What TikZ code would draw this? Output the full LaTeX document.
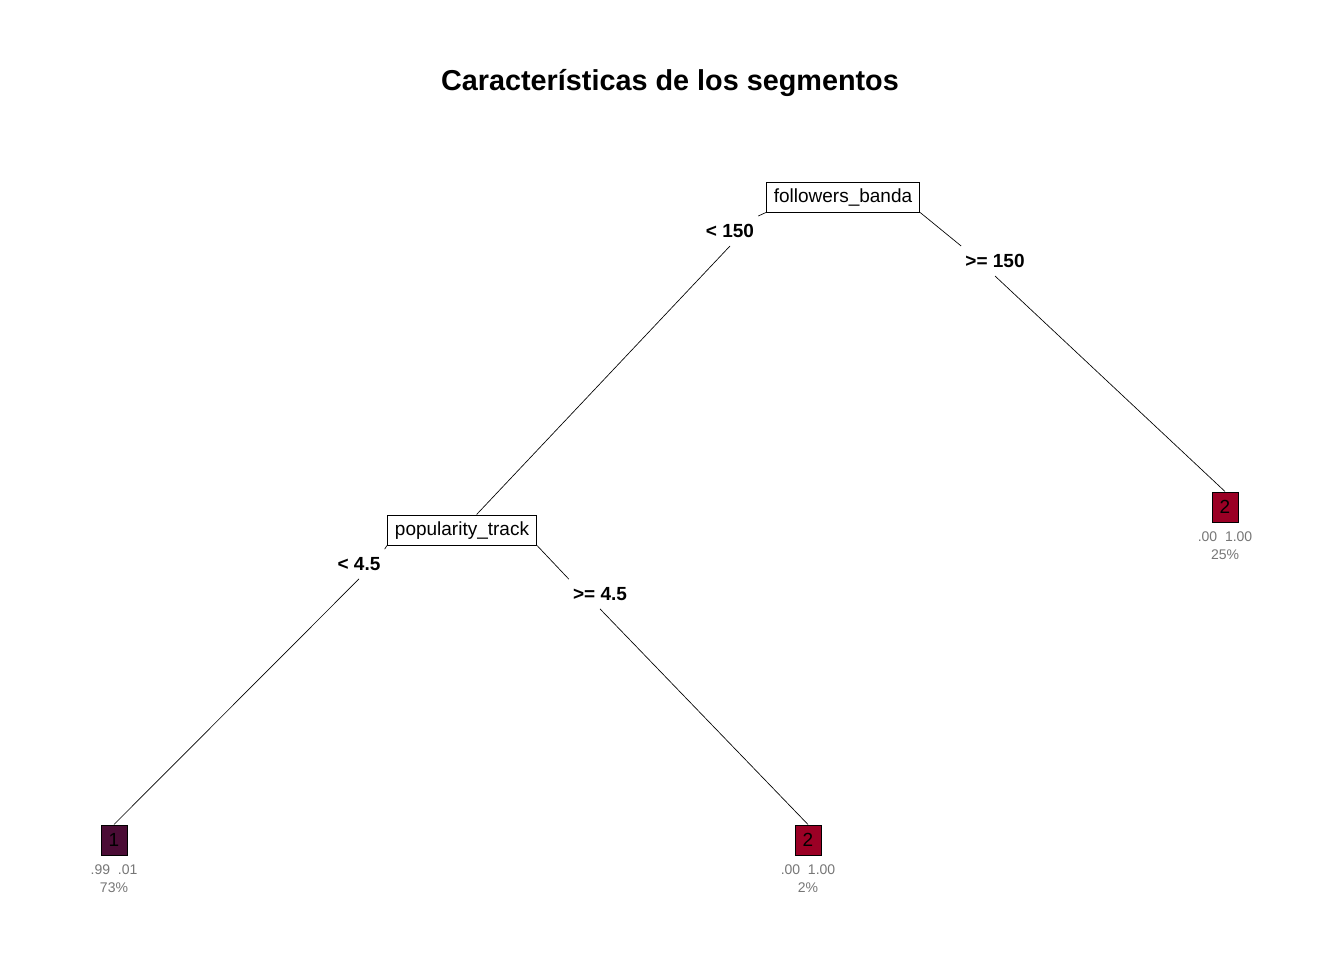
\documentclass[tikz,border=0pt]{standalone}
\usepackage{fontspec}
\setmainfont{Liberation Sans}
\definecolor{hojauno}{RGB}{75,12,53}
\definecolor{hojados}{RGB}{155,0,37}
\definecolor{estad}{RGB}{118,118,118}

\begin{document}
\begin{tikzpicture}[x=0.75pt, y=-0.75pt,
        division/.style={draw, line width=0.75pt, fill=white, inner xsep=5.6pt, inner ysep=4.7pt,
            text height=10.3pt, text depth=2.8pt, font=\fontsize{14.25}{17}\selectfont},
        rama/.style={inner xsep=3pt, inner ysep=6pt, font=\fontsize{14.25}{17}\selectfont\bfseries},
        hoja/.style={draw, line width=0.75pt, minimum width=19.5pt, minimum height=22.5pt,
            inner sep=0pt, font=\fontsize{14.25}{17}\selectfont},
        estadistica/.style={text=estad, align=center, inner sep=0pt, font=\fontsize{10.5}{13.5}\selectfont},
        linea/.style={line width=0.5pt}]
        \useasboundingbox (0, 0) rectangle (1344, 960);

        \node (titulo) at (670, 90) [anchor=base] {\fontsize{21.6}{26}\selectfont\bfseries Características de los segmentos};

        \node (fb) at (843, 197) [division] {followers\_banda};
        \node (pt) at (462, 530) [division] {popularity\_track};

        \node (r1) at (730, 231) [rama] {< 150};
        \node (r2) at (995, 261) [rama] {>= 150};
        \node (r3) at (359, 564) [rama] {< 4.5};
        \node (r4) at (600, 594) [rama] {>= 4.5};

        \node (h1) at (114, 840) [hoja, fill=hojauno] {1};
        \node (h2) at (808, 840) [hoja, fill=hojados] {2};
        \node (h3) at (1225, 507) [hoja, fill=hojados] {2};

        \node (e1) at (114, 879) [estadistica] {.99~~.01\\73\%};
        \node (e2) at (808, 879) [estadistica] {.00~~1.00\\2\%};
        \node (e3) at (1225, 546) [estadistica] {.00~~1.00\\25\%};

        \draw[linea] (fb.south west) -- (r1.north east);
        \draw[linea] (r1.south) -- (pt);
        \draw[linea] (fb.south east) -- (r2.north west);
        \draw[linea] (r2.south) -- (h3.north);
        \draw[linea] (pt.south west) -- (r3.north east);
        \draw[linea] (r3.south) -- (h1.north);
        \draw[linea] (pt.south east) -- (r4.north west);
        \draw[linea] (r4.south) -- (h2.north);
    \end{tikzpicture}
\end{document}
